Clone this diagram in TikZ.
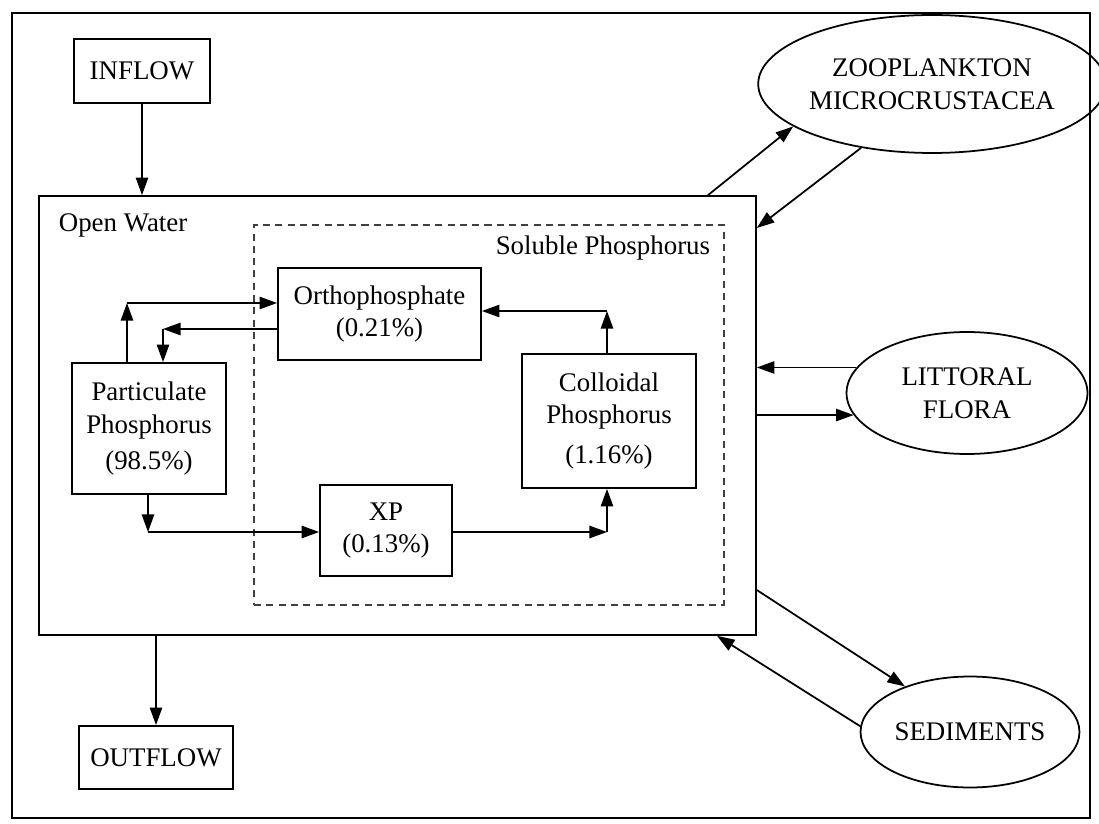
\documentclass[tikz,border=0pt]{standalone}
\usepackage{fontspec}
\setmainfont{Liberation Serif}
\usetikzlibrary{arrows.meta,shapes.geometric}
\begin{document}
\begin{tikzpicture}[x=0.02cm,y=-0.02cm,line width=1pt,
	every node/.style={font=\fontsize{15.3}{18.6}\selectfont,inner sep=0pt},
	box/.style={draw,align=center},
	blob/.style={draw,ellipse,align=center},
	arr/.style={-{Triangle[length=10pt,width=7pt]}}]
	\useasboundingbox (0,0) rectangle (1099,824);
	\draw (12,13) rectangle (1090,818);
	\node[box,minimum width=2.72cm,minimum height=1.28cm] (inflow) at (142,71) {INFLOW};
	\node[box,minimum width=14.34cm,minimum height=8.78cm] (water) at (397.5,415.5) {};
	\node[anchor=base west] (waterlabel) at (58,232) {Open Water};
	\node[draw,dashed,dash pattern=on 4pt off 3pt,line width=0.8pt,black!75,minimum width=9.4cm,minimum height=7.6cm] (soluble) at (489,415) {};
	\node[anchor=base east] (solublelabel) at (711,255) {Soluble Phosphorus};
	\node[box,minimum width=4.06cm,minimum height=1.84cm] (ortho) at (379.5,314) {Orthophosphate\\(0.21\%)};
	\node[box,minimum width=3.08cm,minimum height=2.62cm] (partic) at (149,428.5) {Particulate\\Phosphorus\\[2pt](98.5\%)};
	\node[box,minimum width=2.64cm,minimum height=1.82cm] (xp) at (386,530.5) {XP\\(0.13\%)};
	\node[box,minimum width=3.48cm,minimum height=2.68cm] (colloid) at (609,421) {Colloidal\\Phosphorus\\[4pt](1.16\%)};
	\node[box,minimum width=3.08cm,minimum height=1.26cm] (outflow) at (156,757.5) {OUTFLOW};
	\node[blob,minimum width=6.2cm,minimum height=2.76cm] (zoo) at (932,84) {ZOOPLANKTON\\MICROCRUSTACEA};
	\node[blob,minimum width=4.82cm,minimum height=2.44cm] (flora) at (967,393) {LITTORAL\\FLORA};
	\node[blob,minimum width=4.38cm,minimum height=2.22cm] (sed) at (970,732) {SEDIMENTS};
	\coordinate (pu) at (127,303);
	\coordinate (pd) at (163,329);
	\coordinate (px) at (148,532);
	\coordinate (xc) at (607,532);
	\coordinate (co) at (607,311);
	\draw[arr] (inflow) -- (inflow |- water.north);
	\draw[arr] (water.south -| outflow.north) -- (outflow.north);
	\draw[arr] (pu |- partic.north) -- (pu);
	\draw[arr] (pu) -- (pu -| ortho.west);
	\draw[arr] (pd -| ortho.west) -- (pd);
	\draw[arr] (pd) -- (pd |- partic.north);
	\draw[arr] (px |- partic.south) -- (px);
	\draw[arr] (px) -- (px -| xp.west);
	\draw[arr] (xc -| xp.east) -- (xc);
	\draw[arr] (xc) -- (xc |- colloid.south);
	\draw[arr] (co |- colloid.north) -- (co);
	\draw[arr] (co) -- (co -| ortho.east);
	\draw[arr] (water.north -| 708,0) -- (zoo.197);
	\draw[arr] (zoo.222) -- (water.east |- 0,228);
	\draw[arr] (flora.167) -- (flora.167 -| water.east);
	\draw[arr] (flora.191 -| water.east) -- (flora.191);
	\draw[arr] (water.east |- 0,590) -- (sed.145);
	\draw[arr] (sed.177) -- (water.south -| 717,0);
\end{tikzpicture}
\end{document}
